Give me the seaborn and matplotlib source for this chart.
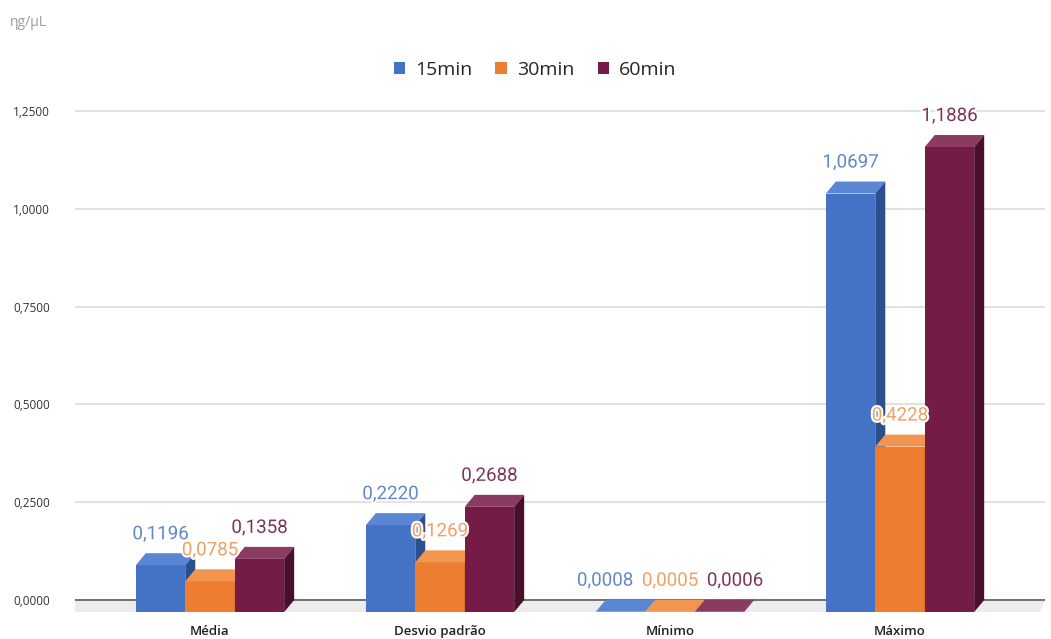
import numpy as np
import pandas as pd
import seaborn as sns
import matplotlib.pyplot as plt
from matplotlib.patches import Polygon, Patch
import matplotlib.patheffects as pe

categories = ["Média", "Desvio padrão", "Mínimo", "Máximo"]
series = ["15min", "30min", "60min"]
v15 = [0.1196, 0.2220, 0.0008, 1.0697]
v30 = [0.0785, 0.1269, 0.0005, 0.4228]
v60 = [0.1358, 0.2688, 0.0006, 1.1886]
yticks = [0.0, 0.25, 0.5, 0.75, 1.0, 1.25]
unit_label = "ηg/µL"

colors = ["#4472c4", "#ed7d31", "#741b47"]
top_colors = ["#5a86d4", "#f29550", "#8b3a61"]
side_colors = ["#2c4f8e", "#b95e1f", "#4a0f2b"]
label_colors = ["#6387c7", "#f0a066", "#7d3558"]

df = pd.DataFrame({
    "cat": categories * 3,
    "series": np.repeat(series, len(categories)),
    "value": v15 + v30 + v60,
})

sns.set_theme(style="white")
plt.rcParams["font.family"] = ["Roboto", "DejaVu Sans"]

W, H = 1051, 639
fig = plt.figure(figsize=(W / 100, H / 100), dpi=100)
ax = fig.add_axes([75 / W, 1 - 615 / H, 970 / W, 520 / H])

ypx = 391.2   # pixels per data unit (y)
xpx = 230.0   # pixels per category (x)
dy = 12 / ypx
dx = 10 / xpx

sns.barplot(data=df, x="cat", y="value", hue="series", hue_order=series,
            order=categories, palette=colors, width=0.645, dodge=True,
            saturation=1, errorbar=None, linewidth=0, legend=False, ax=ax)

xl, xr = -135 / xpx, 3 + 145 / xpx
ax.set_xlim(xl, xr)
ax.set_ylim(-15 / ypx, 1.25 + 16 / ypx)

# gridlines
for t in yticks[1:]:
    ax.axhline(t, color="#d9d9d9", lw=1.1, zorder=0.5)
# floor
ax.add_patch(Polygon([(xl, 0), (xr, 0), (xr - dx * 0.5, -dy), (xl - dx * 1.5, -dy)],
                     closed=True, facecolor="#ececec", edgecolor="none", zorder=1))
ax.axhline(0, color="#707070", lw=1.4, zorder=1.2)

labels = []  # (category index, series index, x, y, text)
for i, cont in enumerate(ax.containers):
    for j, (p, val) in enumerate(zip(cont.patches, cont.datavalues)):
        x, w, h = p.get_x(), p.get_width(), p.get_height()
        p.set_y(-dy)
        p.set_zorder(3 + 3 * i)
        top = Polygon([(x, h - dy), (x + w, h - dy), (x + w + dx, h), (x + dx, h)],
                      closed=True, facecolor=top_colors[i], edgecolor="none",
                      zorder=4 + 3 * i)
        side = Polygon([(x + w, -dy), (x + w, h - dy), (x + w + dx, h), (x + w + dx, 0)],
                       closed=True, facecolor=side_colors[i], edgecolor="none",
                       zorder=4 + 3 * i)
        ax.add_patch(top)
        ax.add_patch(side)
        labels.append([j, i, x + w / 2, val + 19 / ypx, f"{val:.4f}".replace(".", ",")])

# spread labels that would collide (same category, nearly same height)
min_gap = 65 / xpx
for j in range(len(categories)):
    grp = sorted([l for l in labels if l[0] == j], key=lambda l: l[2])
    ys = [l[3] for l in grp]
    if max(ys) - min(ys) < 14 / ypx:
        c = np.mean([l[2] for l in grp])
        n = len(grp)
        for k, l in enumerate(grp):
            l[2] = c + (k - (n - 1) / 2) * max(min_gap, grp[1][2] - grp[0][2])

for j, i, x, y, s in labels:
    ax.text(x, y, s, ha="center", va="center", fontsize=13.5, color=label_colors[i],
            zorder=20, path_effects=[pe.withStroke(linewidth=3, foreground="white")])

ax.set_yticks(yticks)
ax.set_yticklabels([f"{t:.4f}".replace(".", ",") for t in yticks],
                   fontsize=8.5, color="#333333", family=["Open Sans", "DejaVu Sans"])
ax.tick_params(axis="y", length=0, pad=18)
ax.set_xticks(range(len(categories)))
ax.set_xticklabels(categories, fontsize=9.5, color="#222222", fontweight="semibold",
                   family=["Open Sans", "DejaVu Sans"])
ax.tick_params(axis="x", length=0, pad=7)
ax.set_xlabel("")
ax.set_ylabel("")
for s in ax.spines.values():
    s.set_visible(False)

handles = [Patch(facecolor=c, edgecolor="none", label=s) for c, s in zip(colors, series)]
fig.legend(handles=handles, loc="center", bbox_to_anchor=(535 / W, 1 - 70 / H),
           ncol=3, frameon=False, handlelength=0.6, handleheight=0.6,
           handletextpad=0.5, columnspacing=1.2,
           prop={"family": ["Open Sans", "DejaVu Sans"], "size": 14})

fig.text(10 / W, 1 - 22 / H, unit_label, fontsize=10, color="#9e9e9e", va="center",
         ha="left", family=["Open Sans", "DejaVu Sans"])

fig.savefig("out.png", dpi=100)
